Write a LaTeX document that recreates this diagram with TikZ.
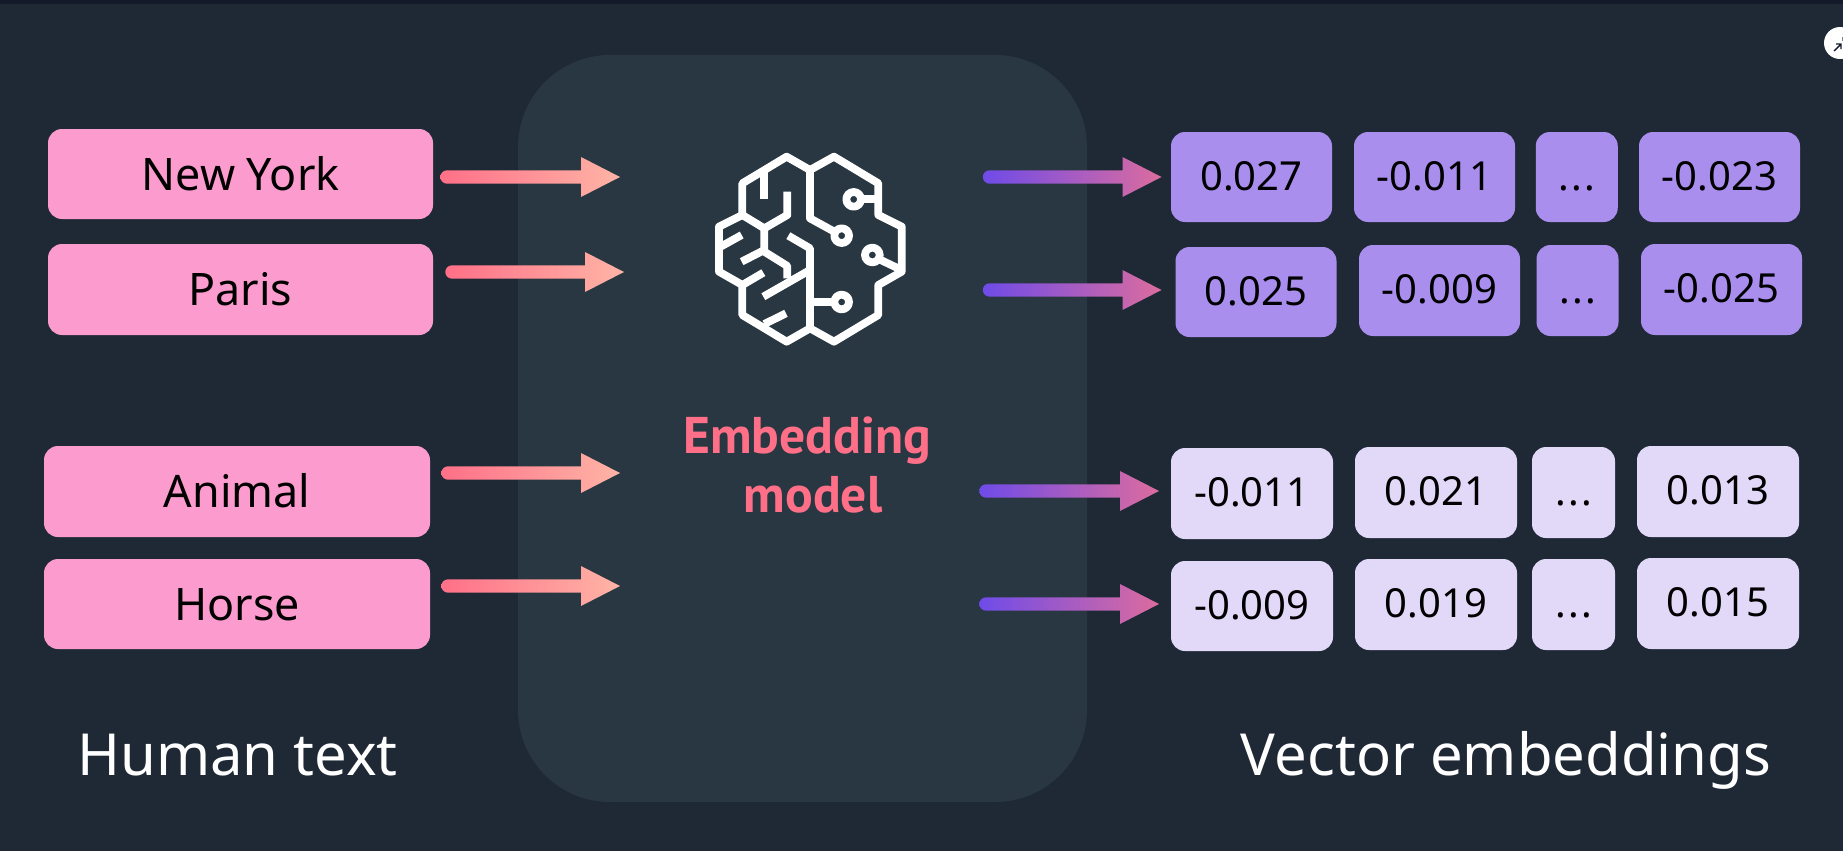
\documentclass[tikz,border=0pt]{standalone}
\usepackage{fontspec}
\setmainfont{Noto Sans}
\newfontfamily\embfont{PT Sans Bold}
\usetikzlibrary{calc}
\definecolor{bgc}{HTML}{1F2935}
\definecolor{stripc}{HTML}{131B2A}
\definecolor{panelc}{HTML}{283741}
\definecolor{pinkc}{HTML}{FB9BCE}
\definecolor{purplec}{HTML}{A98EEE}
\definecolor{lilacc}{HTML}{E2D8F8}
\definecolor{coralc}{HTML}{FF7088}
\definecolor{peachc}{HTML}{FFB4A6}
\definecolor{violetc}{HTML}{6F4BE8}
\definecolor{rosec}{HTML}{DC6C9E}
\tikzset{
  textbox/.style={fill=pinkc,rounded corners=7pt,inner sep=0pt,outer sep=0pt,text=black,
    font=\fontsize{22.4}{26}\selectfont,text height=18pt,text depth=2pt},
  numbox/.style={rounded corners=7pt,inner sep=0pt,outer sep=0pt,text=black,
    font=\fontsize{20}{24}\selectfont,text height=16.5pt,text depth=3.5pt},
  darkbox/.style={numbox,fill=purplec},
  lightbox/.style={numbox,fill=lilacc},
  caption/.style={anchor=base,text=white,font=\fontsize{29}{35}\selectfont},
  embtext/.style={text=coralc,anchor=base,font=\embfont\fontsize{25.8}{29.5}\selectfont},
  brainline/.style={draw=white,line width=3.9pt,line join=round},
}
\newcommand{\dotsgap}{.\kern1.2pt.\kern1.2pt.}
% start and tip are named coordinates; the shape is a gradient block arrow
\newcommand{\flowarrow}[4]{%
  \shade[left color=#3,right color=#4] let \p1=(#1),\p2=(#2) in
    (\x1,\y1-3.33pt) arc[start angle=270,end angle=90,radius=3.33pt]
    -- (\x2-19.5pt,\y1+3.33pt) -- (\x2-19.5pt,\y1+10pt) -- (\x2,\y1)
    -- (\x2-19.5pt,\y1-10pt) -- (\x2-19.5pt,\y1-3.33pt) -- cycle;}
\begin{document}
\begin{tikzpicture}[x=0.5pt,y=-0.5pt]
\useasboundingbox (0,0) rectangle (1843,851);
\fill[bgc] (0,0) rectangle (1843,851);
\fill[stripc] (0,0) rectangle (1843,4);
% panel
\node[fill=panelc,rounded corners=46pt,inner sep=0pt,outer sep=0pt,minimum width=284.5pt,minimum height=373.5pt] (panel) at (802.5,428.5) {};
% left text boxes
\node[textbox,minimum width=192.5pt,minimum height=45pt] (ny) at (240.5,174) {New York};
\node[textbox,minimum width=192.5pt,minimum height=45.5pt] (paris) at (240.5,289.5) {Paris};
\node[textbox,minimum width=193pt,minimum height=45.5pt] (animal) at (237,491.5) {Animal};
\node[textbox,minimum width=193pt,minimum height=45pt] (horse) at (237,604) {Horse};
% vectors
\node[darkbox,minimum width=80.5pt,minimum height=45pt] (v11) at (1251.5,177) {0.027};
\node[darkbox,minimum width=80.5pt,minimum height=45pt] (v12) at (1434.5,177) {-0.011};
\node[darkbox,minimum width=41pt,minimum height=45pt] (v13) at (1576.75,177) {\dotsgap};
\node[darkbox,minimum width=80.5pt,minimum height=45pt] (v14) at (1719.5,177) {-0.023};
\node[darkbox,minimum width=80.5pt,minimum height=45pt] (v21) at (1256,292) {0.025};
\node[darkbox,minimum width=80.5pt,minimum height=45.5pt] (v22) at (1439.5,290.5) {-0.009};
\node[darkbox,minimum width=41pt,minimum height=45.5pt] (v23) at (1577.5,290.5) {\dotsgap};
\node[darkbox,minimum width=80.5pt,minimum height=45.5pt] (v24) at (1721.5,289.5) {-0.025};
\node[lightbox,minimum width=81pt,minimum height=45.5pt] (v31) at (1252,493.5) {-0.011};
\node[lightbox,minimum width=81pt,minimum height=45.5pt] (v32) at (1436,492.5) {0.021};
\node[lightbox,minimum width=41.5pt,minimum height=45.5pt] (v33) at (1573.5,492.5) {\dotsgap};
\node[lightbox,minimum width=81pt,minimum height=45.5pt] (v34) at (1718,491.5) {0.013};
\node[lightbox,minimum width=81pt,minimum height=45pt] (v41) at (1252,606) {-0.009};
\node[lightbox,minimum width=81pt,minimum height=45.5pt] (v42) at (1436,604.5) {0.019};
\node[lightbox,minimum width=41.5pt,minimum height=45.5pt] (v43) at (1573.5,604.5) {\dotsgap};
\node[lightbox,minimum width=81pt,minimum height=45.5pt] (v44) at (1718,603.5) {0.015};
% captions
\node[caption] (human) at (237.5,775) {Human text};
\node[caption] (vector) at (1506,775) {Vector embeddings};
\node[embtext] (emb) at (807,453) {Embedding};
\node[embtext] (model) at (813,512) {model};
% arrow ends inside the panel
\coordinate (tipa) at (620,177);
\coordinate (tipb) at (624,272);
\coordinate (tipc) at (620,473);
\coordinate (tipd) at (620,586);
\coordinate (srce) at (989.5,177);
\coordinate (srcf) at (989.5,290);
\coordinate (srcg) at (986,491);
\coordinate (srch) at (986,604);
\flowarrow{$(ny.east)+(14,3)$}{tipa}{coralc}{peachc}
\flowarrow{$(paris.east)+(19,-17.5)$}{tipb}{coralc}{peachc}
\flowarrow{$(animal.east)+(18,-18.5)$}{tipc}{coralc}{peachc}
\flowarrow{$(horse.east)+(18,-18)$}{tipd}{coralc}{peachc}
\flowarrow{srce}{$(v11.west)+(-9.5,0)$}{violetc}{rosec}
\flowarrow{srcf}{$(v21.west)+(-14,-2)$}{violetc}{rosec}
\flowarrow{srcg}{$(v31.west)+(-12,-2.5)$}{violetc}{rosec}
\flowarrow{srch}{$(v41.west)+(-12,-2)$}{violetc}{rosec}
% brain icon
\begin{scope}[shift={(650,120)},x=0.16667pt,y=-0.16667pt]
\draw[brainline] (480,150) -- (410,110) -- (277,190) -- (277,285) -- (207,320) -- (207,455) -- (277,495) -- (277,585) -- (410,665) -- (480,625);
\draw[brainline] (480,150) -- (552,110) -- (685,190) -- (685,285) -- (755,320) -- (755,455) -- (685,495) -- (685,585) -- (552,665) -- (480,625);
\draw[brainline] (480,150) -- (480,295) -- (553,335);
\draw[brainline] (415,347) -- (480,385) -- (480,625);
\draw[brainline] (343,150) -- (343,237);
\draw[brainline] (412,215) -- (412,285) -- (343,325) -- (277,285);
\draw[brainline] (343,325) -- (343,395) -- (412,438) -- (412,475);
\draw[brainline] (275,425) -- (343,390);
\draw[brainline] (212,380) -- (275,345);
\draw[brainline] (277,495) -- (340,458);
\draw[brainline] (340,530) -- (480,450);
\draw[brainline] (343,612) -- (408,580);
\draw[brainline] (641,238) -- (685,238);
\draw[brainline] (688,418) -- (755,450);
\draw[brainline] (480,546) -- (547,546);
\draw[brainline] (611,238) circle (22);
\draw[brainline] (575,347) circle (22);
\draw[brainline] (667,405) circle (22);
\draw[brainline] (575,546) circle (22);
\end{scope}
% corner badge
\fill[white] (1840,43) circle (16);
\draw[stripc,line width=0.7pt] (1834,51) -- (1841,44) (1836,44) -- (1841,44) -- (1841,49);
\fill[gray] (1841.5,37) rectangle (1843,41);
\end{tikzpicture}
\end{document}
